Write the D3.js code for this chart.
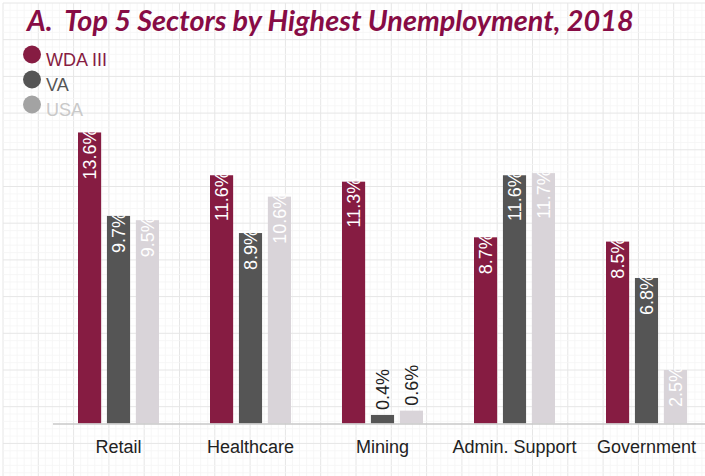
<!DOCTYPE html>
<html><head><meta charset="utf-8">
<script src="https://cdn.jsdelivr.net/npm/d3@7"></script>
<style>html,body{margin:0;padding:0;background:#fff;overflow:hidden}</style>
</head><body>
<svg id="chart" width="705" height="476"></svg>
<script>
const categories = ["Retail","Healthcare","Mining","Admin. Support","Government"];
const seriesNames = ["WDA III","VA","USA"];
const wdaValues = [13.6, 11.6, 11.3, 8.7, 8.5];
const vaValues  = [9.7, 8.9, 0.4, 11.6, 6.8];
const usaValues = [9.5, 10.6, 0.6, 11.7, 2.5];
const titleText = "A.  Top 5 Sectors by Highest Unemployment, 2018";

const barColors = {"WDA III":"#861c42","VA":"#555555","USA":"#d9d4d9"};
const legendDot = {"WDA III":"#861c42","VA":"#555555","USA":"#a3a3a3"};
const legendText = {"WDA III":"#861c42","VA":"#555555","USA":"#c9c9c9"};
const valuesBySeries = {"WDA III":wdaValues,"VA":vaValues,"USA":usaValues};

const svg = d3.select("#chart");
const W = 705, H = 476;

// background grid paper
const grid = svg.append("g");
const sx = 35.3, sy = 36.7;
for (let i = 0; i * sx / 5 + 3 < W; i++) {
  const x = 3 + i * sx / 5;
  grid.append("line").attr("x1", x).attr("x2", x).attr("y1", 3).attr("y2", H)
    .attr("stroke", i % 5 === 0 ? "#e6e6e6" : "#f5f5f5").attr("stroke-width", i % 5 === 0 ? 1 : 0.8);
}
for (let j = 0; j * sy / 5 + 3 < H; j++) {
  const y = 3 + j * sy / 5;
  grid.append("line").attr("y1", y).attr("y2", y).attr("x1", 3).attr("x2", W)
    .attr("stroke", j % 5 === 0 ? "#e6e6e6" : "#f5f5f5").attr("stroke-width", j % 5 === 0 ? 1 : 0.8);
}

const baseY = 423.5;
const x0 = d3.scaleBand().domain(categories).range([52.5, 712.5]).paddingInner(0).paddingOuter(0);
const x1 = d3.scaleBand().domain(seriesNames).range([25.5, 106.5]).paddingInner(0.2);
const y = d3.scaleLinear().domain([0, 14]).range([baseY, baseY - 14 * 21.4]);

const data = [];
categories.forEach((c, i) => seriesNames.forEach(s => data.push({cat: c, ser: s, v: valuesBySeries[s][i]})));

const bars = svg.append("g");
bars.selectAll("rect").data(data).join("rect")
  .attr("x", d => x0(d.cat) + x1(d.ser))
  .attr("y", d => y(d.v))
  .attr("width", x1.bandwidth())
  .attr("height", d => baseY - y(d.v))
  .attr("fill", d => barColors[d.ser]);

// value labels
const inside = d => d.v >= 2;
svg.append("g").selectAll("text").data(data).join("text")
  .attr("transform", d => {
    const cx = x0(d.cat) + x1(d.ser) + x1.bandwidth() / 2;
    const ty = inside(d) ? y(d.v) - 4 : y(d.v) - 5;
    return `translate(${cx},${ty}) rotate(-90)`;
  })
  .attr("dy", "0.35em")
  .attr("text-anchor", d => inside(d) ? "end" : "start")
  .attr("font-family", "Liberation Sans, Arial, sans-serif")
  .attr("font-size", 18)
  .attr("fill", d => inside(d) ? "#ffffff" : "#222222")
  .text(d => d.v.toFixed(1) + "%");

// x axis
const axis = svg.append("g").attr("transform", `translate(0,${baseY})`)
  .call(d3.axisBottom(x0).tickSize(0).tickPadding(13));
axis.select(".domain").attr("stroke", "#c8c8c8").attr("stroke-width", 1.5);
axis.selectAll("text").attr("font-family", "Liberation Sans, Arial, sans-serif")
  .attr("font-size", 18).attr("fill", "#222").attr("dy", "0.9em");

// legend
const leg = svg.append("g");
seriesNames.forEach((s, i) => {
  const cy = 54.5 + i * 25;
  leg.append("circle").attr("cx", 32).attr("cy", cy).attr("r", 9).attr("fill", legendDot[s]);
  leg.append("text").attr("x", 46).attr("y", cy + 11.5)
    .attr("font-family", "Liberation Sans, Arial, sans-serif").attr("font-size", 18)
    .attr("fill", legendText[s]).text(s);
});

// title
const t = svg.append("text").attr("x", 27).attr("y", 31)
  .attr("font-family", "Lato, 'Open Sans', sans-serif").attr("font-weight", "bold")
  .attr("font-style", "italic").attr("font-size", 24).attr("fill", "#870c45")
  .style("white-space", "pre").text(titleText);
const tw = t.node().getComputedTextLength();
t.attr("font-size", 24 * 607 / tw);
</script>
</body></html>
